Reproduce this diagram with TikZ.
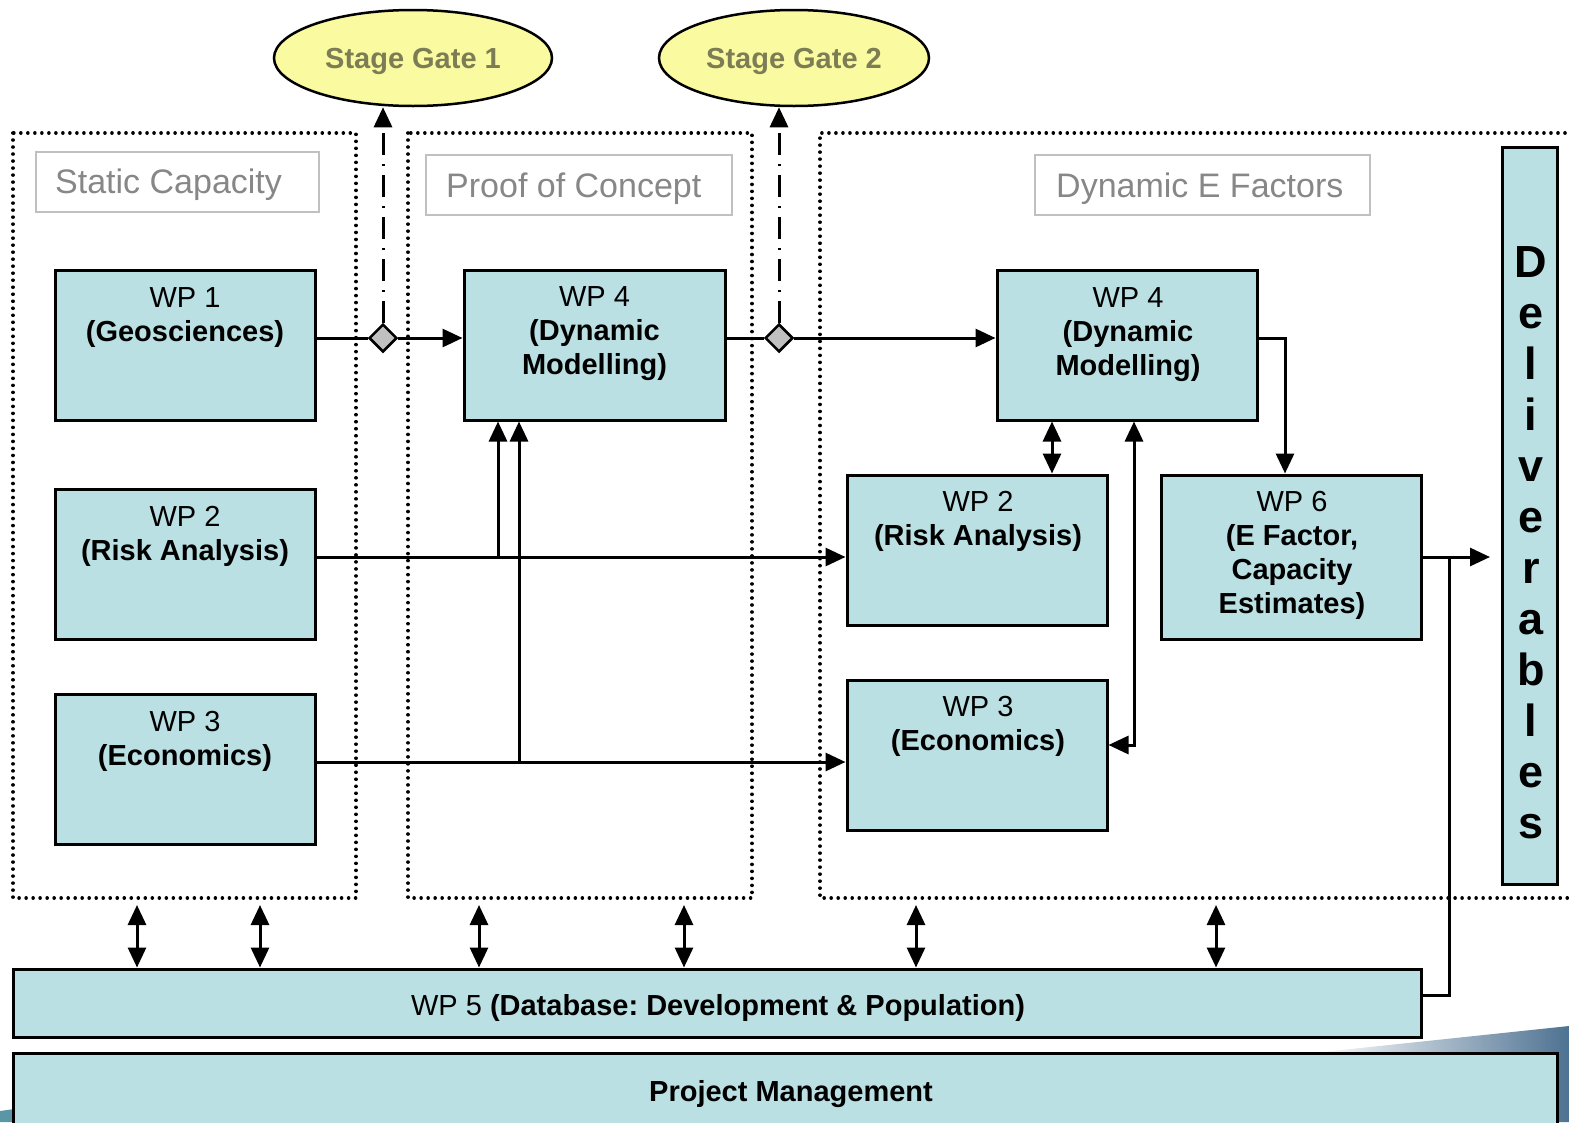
\documentclass[tikz,border=0pt]{standalone}
\usepackage{fontspec}
\setmainfont{Liberation Sans}
\frenchspacing
\usetikzlibrary{arrows.meta,shapes.geometric}
\definecolor{wpfill}{RGB}{186,224,227}
\definecolor{gatefill}{RGB}{250,250,160}
\definecolor{gatetext}{RGB}{125,125,85}
\definecolor{phasegray}{RGB}{135,135,135}
\definecolor{phaseline}{RGB}{192,192,192}
\definecolor{diamondgray}{RGB}{192,192,192}
\definecolor{slide}{RGB}{78,114,146}
\definecolor{slideleft}{RGB}{90,150,165}
\begin{document}
\begin{tikzpicture}[x=1pt,y=-1pt,
  wpbox/.style={draw=black,line width=3pt,fill=wpfill,inner sep=0pt},
  wptext/.style={anchor=north,align=center,inner sep=0pt,font=\fontsize{29}{34}\selectfont},
  phasebox/.style={draw=phaseline,line width=2.5pt,inner sep=0pt},
  phasetext/.style={anchor=base west,text=phasegray,inner sep=0pt,font=\fontsize{34}{40}\selectfont},
  phaseframe/.style={line width=3.6pt,dash pattern=on 0.01pt off 7pt,line cap=round},
  gate/.style={ellipse,draw=black,line width=2.5pt,fill=gatefill,text=gatetext,inner sep=0pt,text depth=0pt,font=\fontsize{29}{34}\selectfont\bfseries},
  gdiamond/.style={diamond,draw=black,line width=2.5pt,fill=diamondgray,minimum width=28pt,minimum height=28pt,inner sep=0pt},
  conn/.style={line width=3pt},
  arr/.style={line width=3pt,-{Triangle[width=18pt,length=20pt]}},
  darr/.style={line width=3pt,{Triangle[width=18pt,length=20pt]}-{Triangle[width=18pt,length=20pt]}},
  dashdot/.style={line width=3pt,dash pattern=on 22pt off 9pt on 2pt off 9pt,-{Triangle[width=18pt,length=20pt]}}
]
\useasboundingbox (0,0) rectangle (1569,1122);
% slide background wedge
\shade[left color=white,right color=slide] (1313,1053) -- (1569,1026) -- (1569,1122) -- (1313,1122) -- cycle;
\fill[slideleft] (0,1111) -- (14,1109) -- (14,1122) -- (0,1122) -- cycle;

% phase frames
\draw[phaseframe] (13,133) rectangle (356,898);
\draw[phaseframe] (408,133) rectangle (752,898);
\draw[phaseframe] (1572,133) -- (820,133) -- (820,898) -- (1572,898);

% phase labels
\node[phasebox,minimum width=283pt,minimum height=60pt] (pl1) at (177.5,182) {};
\node[phasetext] (pl1t) at (55,193) {Static Capacity};
\node[phasebox,minimum width=306pt,minimum height=60pt] (pl2) at (579,185) {};
\node[phasetext] (pl2t) at (446,197) {Proof of Concept};
\node[phasebox,minimum width=335pt,minimum height=60pt] (pl3) at (1202.5,185) {};
\node[phasetext] (pl3t) at (1056,197) {Dynamic E Factors};

% stage gates
\node[gate,minimum width=278pt,minimum height=96pt] (sg1) at (413,58) {Stage Gate 1};
\node[gate,minimum width=270pt,minimum height=96pt] (sg2) at (794,58) {Stage Gate 2};

% work package boxes
\node[wpbox,minimum width=260pt,minimum height=150pt] (wp1) at (185,345) {};
\node[wptext] (wp1t) at (185,287) {WP 1\\\textbf{(Geosciences)}};
\node[wpbox,minimum width=260pt,minimum height=150pt] (wp2a) at (185,564) {};
\node[wptext] (wp2at) at (185,506) {WP 2\\\textbf{(Risk Analysis)}};
\node[wpbox,minimum width=260pt,minimum height=150pt] (wp3a) at (185,769) {};
\node[wptext] (wp3at) at (185,711) {WP 3\\\textbf{(Economics)}};

\node[wpbox,minimum width=261pt,minimum height=150pt] (wp4a) at (594.5,345) {};
\node[wptext] (wp4at) at (594.5,286) {WP 4\\\textbf{(Dynamic}\\\textbf{Modelling)}};

\node[wpbox,minimum width=260pt,minimum height=150pt] (wp4b) at (1127,345) {};
\node[wptext] (wp4bt) at (1128,287) {WP 4\\\textbf{(Dynamic}\\\textbf{Modelling)}};
\node[wpbox,minimum width=260pt,minimum height=150pt] (wp2b) at (977,550) {};
\node[wptext] (wp2bt) at (978,491) {WP 2\\\textbf{(Risk Analysis)}};
\node[wpbox,minimum width=260pt,minimum height=150pt] (wp3b) at (977,755) {};
\node[wptext] (wp3bt) at (978,696) {WP 3\\\textbf{(Economics)}};
\node[wpbox,minimum width=260pt,minimum height=164pt] (wp6) at (1291,557) {};
\node[wptext] (wp6t) at (1292,491) {WP 6\\\textbf{(E Factor,}\\\textbf{Capacity}\\\textbf{Estimates)}};

\node[wpbox,minimum width=55pt,minimum height=737pt] (del) at (1529.5,515.5) {};
\node[anchor=north,align=center,inner sep=0pt,font=\fontsize{45}{51}\selectfont\bfseries] (delt) at (1531,246) {D\\e\\l\\i\\v\\e\\r\\a\\b\\l\\e\\s};

\node[wpbox,minimum width=1408pt,minimum height=68pt] (wp5) at (717,1003) {};
\node[inner sep=0pt,font=\fontsize{29}{34}\selectfont] (wp5t) at (718,1008) {WP 5 \textbf{(Database: Development \& Population)}};
\node[wpbox,minimum width=1544pt,minimum height=90pt] (pm) at (785,1098) {};
\node[inner sep=0pt,font=\fontsize{29}{34}\selectfont\bfseries] (pmt) at (791,1094) {Project Management};

% stage gate diamonds
\node[gdiamond] (d1) at (383,338) {};
\node[gdiamond] (d2) at (779,338) {};

% junction coordinates
\coordinate (j2) at (498,557);
\coordinate (j3) at (519,762);
\coordinate (c6) at (1285,338);
\coordinate (c7) at (1052,450);
\coordinate (c8) at (1134,745);
\coordinate (j6) at (1449,557);
\coordinate (dl) at (1490,557);
\coordinate (j5) at (1449,995);

% connectors
\draw[conn] (wp1.east |- d1) -- (d1.west);
\draw[arr] (d1.east) -- (wp4a.west |- d1);
\draw[dashdot] (d1.north) -- (d1.north |- sg1.south);
\draw[conn] (wp4a.east |- d2) -- (d2.west);
\draw[arr] (d2.east) -- (wp4b.west |- d2);
\draw[dashdot] (d2.north) -- (d2.north |- sg2.south);

\draw[arr] (wp2a.east |- j2) -- (wp2b.west |- j2);
\draw[arr] (j2) -- (j2 |- wp4a.south);
\draw[arr] (wp3a.east |- j3) -- (wp3b.west |- j3);
\draw[arr] (j3) -- (j3 |- wp4a.south);

\draw[darr] (wp4b.south -| c7) -- (wp2b.north -| c7);
\draw[darr] (wp4b.south -| c8) -- (c8) -- (wp3b.east |- c8);
\draw[arr] (wp4b.east |- c6) -- (c6) -- (c6 |- wp6.north);

\draw[arr] (wp6.east |- dl) -- (dl);
\draw[conn] (j6) -- (j5) -- (wp5.east |- j5);

% links to database
\foreach \x/\n in {137/a,260/b,479/c,684/d,916/e,1216/f}{
  \coordinate (t\n) at (\x,905);
  \draw[darr] (t\n) -- (t\n |- wp5.north);
}
\end{tikzpicture}
\end{document}
